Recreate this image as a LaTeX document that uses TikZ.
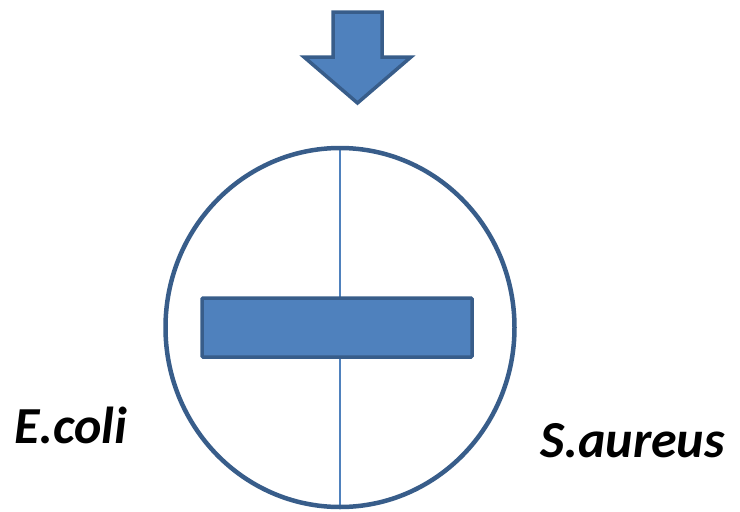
\documentclass[tikz,border=0pt]{standalone}
\usepackage{fontspec}
\setmainfont{Carlito}
\definecolor{fillblue}{HTML}{4F81BD}
\definecolor{edgeblue}{HTML}{385D8A}
\begin{document}
\begin{tikzpicture}[x=1pt,y=-1pt,
  shapestyle/.style={fill=fillblue,draw=edgeblue,line width=3.5pt,line join=miter},
  lbl/.style={font=\fontsize{52}{60}\selectfont\bfseries\itshape,anchor=base west,inner sep=0pt}]
\useasboundingbox (0,0) rectangle (740,512);
% arrow
\draw[shapestyle] (333,12) -- (382,12) -- (382,57) -- (411,57) -- (357.5,103) -- (304,57) -- (333,57) -- cycle;
% circle
\coordinate (c) at (340,327.5);
\coordinate (top) at (340,148);
\coordinate (bot) at (340,507);
\draw[fillblue,line width=1.5pt] (top) -- (bot);
\draw[edgeblue,line width=4.5pt] (c) ellipse [x radius=174.5,y radius=179.5];
\node[shapestyle,rounded corners=1pt,minimum width=270pt,minimum height=59pt,inner sep=0pt] (bar) at (337,327.5) {};
\node[lbl] (ecoli) at (14,443) {E.coli};
\node[lbl] (saureus) at (540,457) {S.aureus};
\end{tikzpicture}
\end{document}
